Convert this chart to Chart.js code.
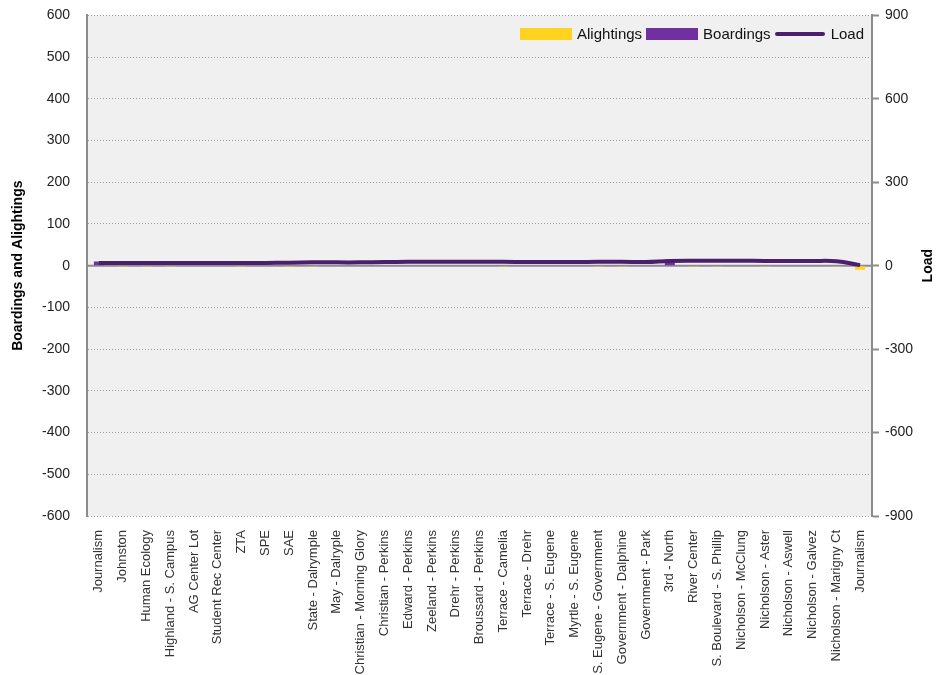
<!DOCTYPE html>
<html>
<head>
<meta charset="utf-8">
<script src="https://cdn.jsdelivr.net/npm/chart.js@4.4.0/dist/chart.umd.min.js"></script>
<style>
  body { margin:0; background:#fff; overflow:hidden; }
  #wrap { position:relative; width:943px; height:675px; overflow:hidden; }
  #canvas { position:absolute; left:0; top:-10px; }
  #legende { position:absolute; right:79px; top:25px; display:flex; align-items:center;
    font-family:"Liberation Sans Narrow","Arial Narrow","Liberation Sans",Arial,sans-serif; font-size:15px; color:#111; }
  #legende span.box { display:inline-block; width:52px; height:12px; margin-right:5px; }
  #legende span.ligne { display:inline-block; width:50px; height:4px; margin-right:6px; border-radius:2px; }
  #legende span.txt { margin-right:4px; }
</style>
</head>
<body>
<div id="wrap">
  <canvas id="canvas" width="943" height="685"></canvas>
  <div id="legende">
    <span class="box" style="background:#FFD320"></span><span class="txt">Alightings</span>
    <span class="box" style="background:#7030A0"></span><span class="txt">Boardings</span>
    <span class="ligne" style="background:#4B1E6E"></span><span class="txt" style="margin-right:0">Load</span>
  </div>
</div>
<script>
// arrets de la ligne (dans l'ordre)
var arrets=["Journalism","Johnston","Human Ecology","Highland - S. Campus","AG Center Lot","Student Rec Center","ZTA","SPE","SAE","State - Dalrymple","May - Dalryple","Christian - Morning Glory","Christian - Perkins","Edward - Perkins","Zeeland - Perkins","Drehr - Perkins","Broussard - Perkins","Terrace - Camelia","Terrace - Drehr","Terrace - S. Eugene","Myrtle - S. Eugene","S. Eugene - Government","Government - Dalphine","Government - Park","3rd - North","River Center","S. Boulevard - S. Phillip","Nicholson - McClung","Nicholson - Aster","Nicholson - Aswell","Nicholson - Galvez","Nicholson - Marigny Ct","Journalism"]

var descentes=[0,-2,-2,-2,0,0,-2,0,-2,-2,0,0,0,0,0,0,0,-2,0,0,0,-2,-2,0,0,-2,-2,0,-2,0,0,-2,-10] //alightings
var montees=[10,0,0,0,0,0,0,1,0,0,0,0,1,0,0,0,0,0,0,0,0,0,0,0,15,0,0,0,0,0,1,0,0] //boardings
var charge=[10,10,10,10,10,10,10,10,11,12,12,12,13,14,14,14,14,14,13,13,13,14,14,13,17,18,18,18,17,17,17,16,2] //load

var police='"Liberation Sans Narrow","Arial Narrow","Liberation Sans",Arial,sans-serif'

// fond gris de la zone du graph + ligne du zero + titre de droite
var fondPlugin={
  id:"fond",
  beforeDraw:function(chart){
    var a=chart.chartArea, ctx=chart.ctx
    ctx.save()
    ctx.fillStyle="#F0F0F0"
    ctx.fillRect(a.left,a.top,a.right-a.left,a.bottom-a.top)
    ctx.restore()
  },
  beforeDatasetsDraw:function(chart){
    var a=chart.chartArea, ctx=chart.ctx
    var y0=chart.scales.y.getPixelForValue(0)
    ctx.save()
    ctx.strokeStyle="#8C8C8C"
    ctx.lineWidth=2
    ctx.beginPath()
    ctx.moveTo(a.left,y0)
    ctx.lineTo(a.right,y0)
    ctx.stroke()
    ctx.restore()
  },
  afterDraw:function(chart){
    var a=chart.chartArea, ctx=chart.ctx
    ctx.save()
    ctx.translate(928,(a.top+a.bottom)/2)
    ctx.rotate(-Math.PI/2)
    ctx.font="bold 14px "+police
    ctx.fillStyle="#000"
    ctx.textAlign="center"
    ctx.textBaseline="middle"
    ctx.fillText("Load",0,0)
    ctx.restore()
  }
}

var chart=new Chart(document.getElementById("canvas"),{
  type:"bar",
  data:{
    labels:arrets,
    datasets:[
      {type:"line",label:"Load",data:charge,yAxisID:"y1",borderColor:"#4B1E6E",borderWidth:4,pointRadius:0,tension:0.4,order:0},
      {label:"Alightings",data:descentes,yAxisID:"y",backgroundColor:"#FFD320",stack:"s",order:1,barPercentage:0.42,categoryPercentage:1},
      {label:"Boardings",data:montees,yAxisID:"y",backgroundColor:"#7030A0",stack:"s",order:1,barPercentage:0.42,categoryPercentage:1}
    ]
  },
  options:{
    responsive:false,
    animation:false,
    layout:{padding:{top:3,left:0,right:0,bottom:0}},
    plugins:{legend:{display:false},tooltip:{enabled:false}},
    scales:{
      x:{
        stacked:true,
        grid:{display:false},
        border:{display:false},
        ticks:{autoSkip:false,maxRotation:90,minRotation:90,padding:6,color:"#333",font:{family:police,size:13}},
        afterFit:function(s){s.height=159}
      },
      y:{
        stacked:true,
        position:"left",
        min:-600,max:600,
        grid:{color:"#9A9A9A",lineWidth:1,drawTicks:false},
        border:{color:"#8C8C8C",width:2,dash:[1,2]},
        ticks:{stepSize:100,padding:17,color:"#222",font:{family:police,size:14}},
        title:{display:true,text:"Boardings and Alightings",color:"#000",font:{family:police,size:14,weight:"bold"},padding:{top:10,bottom:0}},
        afterFit:function(s){s.width=87}
      },
      y1:{
        position:"right",
        min:-900,max:900,
        grid:{drawOnChartArea:false,drawTicks:true,tickLength:7,tickColor:"#8C8C8C",tickWidth:2},
        border:{color:"#8C8C8C",width:2},
        ticks:{stepSize:300,padding:6,color:"#222",font:{family:police,size:14}},
        afterFit:function(s){s.width=71}
      }
    }
  },
  plugins:[fondPlugin]
})
</script>
</body>
</html>
